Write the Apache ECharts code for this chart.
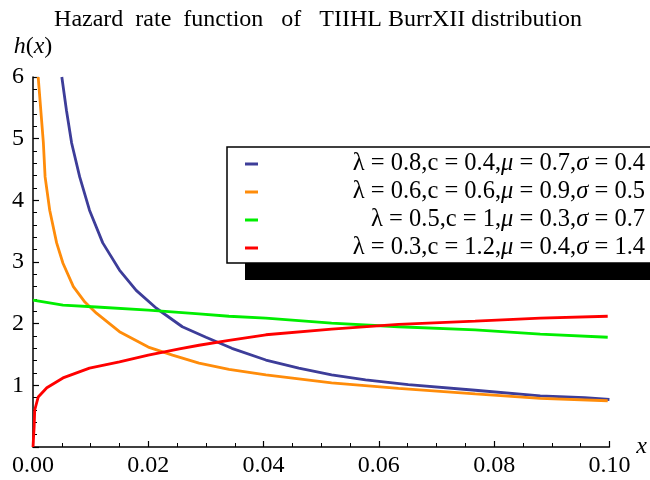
<!DOCTYPE html>
<html>
<head>
<meta charset="utf-8">
<script src="https://cdn.jsdelivr.net/npm/echarts@6/dist/echarts.min.js"></script>
<style>
  html, body { margin: 0; padding: 0; background: #fff; }
  #main { width: 650px; height: 480px; }
</style>
</head>
<body>
<div id="main"></div>
<script>
// values
var blueX = [0.0050, 0.0058, 0.0067, 0.0081, 0.0098, 0.0121, 0.0150, 0.0179, 0.0214, 0.0259, 0.0300, 0.0345, 0.0404, 0.0461, 0.0518, 0.0577, 0.0651, 0.0767, 0.0880, 0.0957, 0.1000];
var blueY = [6.00, 5.46, 4.93, 4.38, 3.84, 3.31, 2.87, 2.54, 2.25, 1.95, 1.78, 1.60, 1.41, 1.28, 1.17, 1.09, 1.01, 0.92, 0.83, 0.80, 0.77];

var orangeX = [0.0009, 0.0018, 0.0021, 0.0029, 0.0041, 0.0052, 0.0070, 0.0090, 0.0110, 0.0150, 0.0200, 0.0242, 0.0288, 0.0340, 0.0404, 0.0518, 0.0634, 0.0767, 0.0880, 0.0997];
var orangeY = [6.00, 4.93, 4.38, 3.84, 3.31, 2.98, 2.60, 2.35, 2.17, 1.87, 1.62, 1.49, 1.36, 1.26, 1.17, 1.04, 0.95, 0.86, 0.79, 0.75];

var greenX = [0, 0.0052, 0.0110, 0.0200, 0.0288, 0.0340, 0.0404, 0.0518, 0.0634, 0.0767, 0.0880, 0.0997];
var greenY = [2.38, 2.30, 2.27, 2.22, 2.16, 2.12, 2.09, 2.01, 1.95, 1.90, 1.83, 1.78];

var redX = [0, 0.0002, 0.0003, 0.0009, 0.0024, 0.0052, 0.0098, 0.0150, 0.0200, 0.0254, 0.0288, 0.0340, 0.0404, 0.0518, 0.0634, 0.0767, 0.0880, 0.0997];
var redY = [0, 0.33, 0.60, 0.81, 0.96, 1.12, 1.28, 1.38, 1.49, 1.59, 1.65, 1.73, 1.82, 1.91, 1.99, 2.04, 2.09, 2.12];

// legend parameters: [lambda, c, mu, sigma]
var params = [
  ['0.8', '0.4', '0.7', '0.4'],
  ['0.6', '0.6', '0.9', '0.5'],
  ['0.5', '1', '0.3', '0.7'],
  ['0.3', '1.2', '0.4', '1.4']
];
var colors = ['#3d3d99', '#ff8c0a', '#00ee00', '#ff0000'];
var xTickLabels = ['0.00', '0.02', '0.04', '0.06', '0.08', '0.10'];

var serif = 'Liberation Serif';

function zip(xs, ys) {
  var out = [];
  for (var i = 0; i < xs.length; i++) out.push([xs[i], ys[i]]);
  return out;
}

var names = params.map(function (p) {
  return 'λ = ' + p[0] + ',c = ' + p[1] + ',μ = ' + p[2] + ',σ = ' + p[3];
});

// legend label as rich text (greek mu / sigma in italic)
function legendText(name) {
  var i = names.indexOf(name);
  var p = params[i];
  return '{n|λ = ' + p[0] + ',c = ' + p[1] + ',}{g|μ}{n| = ' + p[2] + ',}{g|σ}{n| = ' + p[3] + '}';
}

var allX = [blueX, orangeX, greenX, redX];
var allY = [blueY, orangeY, greenY, redY];

var series = [];
for (var s = 0; s < 4; s++) {
  series.push({
    name: names[s],
    type: 'line',
    data: zip(allX[s], allY[s]),
    showSymbol: false,
    symbol: 'none',
    smooth: false,
    lineStyle: { color: colors[s], width: 2.8 },
    itemStyle: { color: colors[s] },
    z: 3 + s
  });
}

var chart = echarts.init(document.getElementById('main'));
chart.setOption({
  animation: false,
  backgroundColor: '#fff',
  title: {
    text: 'Hazard  rate  function   of   TIIHL BurrXII distribution',
    left: 313,
    textAlign: 'center',
    top: 3,
    textStyle: { fontFamily: serif, fontSize: 24, fontWeight: 'normal', color: '#000' }
  },
  grid: { left: 33, right: 37, top: 77, bottom: 33, containLabel: false },
  graphic: [
    { type: 'rect', z: 1, shape: { x: 245, y: 263, width: 420, height: 17 }, style: { fill: '#000' } },
    { type: 'rect', z: 1, shape: { x: 227, y: 147, width: 440, height: 116 }, style: { fill: '#fff', stroke: '#000', lineWidth: 1.5 } }
  ],
  legend: {
    orient: 'vertical',
    left: 245,
    top: 150,
    z: 10,
    padding: 0,
    itemWidth: 13,
    itemHeight: 3,
    itemGap: 0,
    itemStyle: { borderWidth: 0 },
    icon: 'rect',
    data: names,
    formatter: legendText,
    textStyle: {
      width: 382,
      lineHeight: 28,
      fontFamily: serif,
      fontSize: 24.5,
      color: '#000',
      rich: {
        n: { fontFamily: serif, fontSize: 24.5, lineHeight: 28, align: 'right', color: '#000' },
        g: { fontFamily: serif, fontSize: 24.5, lineHeight: 28, fontStyle: 'italic', align: 'right', color: '#000' }
      }
    }
  },
  xAxis: {
    type: 'value',
    min: 0,
    max: 0.1,
    interval: 0.02,
    name: 'x',
    nameLocation: 'end',
    nameGap: 14,
    nameTextStyle: { fontFamily: serif, fontSize: 24, fontStyle: 'italic', color: '#000', verticalAlign: 'middle' },
    axisLine: { lineStyle: { color: '#000', width: 1.5 } },
    axisTick: { inside: true, length: 6, lineStyle: { color: '#000', width: 1.2 } },
    minorTick: { show: true, splitNumber: 4, length: 4, lineStyle: { color: '#000', width: 1 } },
    splitLine: { show: false },
    axisLabel: {
      margin: 7,
      fontFamily: serif,
      fontSize: 24,
      color: '#000',
      formatter: function (v) {
        var i = Math.round(v / 0.02);
        return xTickLabels[i];
      }
    }
  },
  yAxis: {
    type: 'value',
    min: 0,
    max: 6,
    interval: 1,
    name: '{i|h}{n|(}{i|x}{n|)}',
    nameLocation: 'end',
    nameGap: 18,
    nameTextStyle: {
      align: 'center',
      rich: {
        i: { fontFamily: serif, fontSize: 24, fontStyle: 'italic', color: '#000' },
        n: { fontFamily: serif, fontSize: 24, color: '#000' }
      }
    },
    axisLine: { lineStyle: { color: '#000', width: 1.5 } },
    axisTick: { inside: true, length: 6, lineStyle: { color: '#000', width: 1.2 } },
    minorTick: { show: true, splitNumber: 5, length: 4, lineStyle: { color: '#000', width: 1 } },
    splitLine: { show: false },
    axisLabel: {
      margin: 9,
      fontFamily: serif,
      fontSize: 24,
      color: '#000',
      formatter: function (v) { return v === 0 ? '' : String(v); }
    }
  },
  series: series
});
</script>
</body>
</html>
